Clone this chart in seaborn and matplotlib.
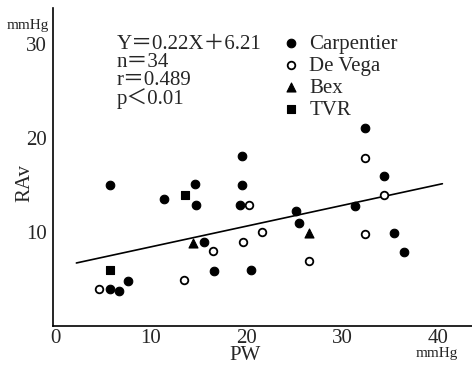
import matplotlib
matplotlib.use("Agg")
import matplotlib.pyplot as plt
import seaborn as sns
import numpy as np
import pandas as pd

# ---- data ----
carp_x = [5.7, 11.4, 14.6, 14.7, 19.5, 19.3, 15.6, 5.7, 6.7, 7.6, 16.6, 20.5, 25.2, 25.5, 31.4, 34.4, 35.4, 36.5, 32.4, 19.5]
carp_y = [15.0, 13.5, 15.1, 12.9, 15.0, 12.9, 8.9, 3.9, 3.7, 4.8, 5.85, 5.9, 12.2, 10.9, 12.8, 15.9, 9.9, 7.9, 21.0, 18.1]
devega_x = [16.5, 19.6, 4.6, 13.5, 20.3, 21.6, 26.5, 32.4, 34.4, 32.4]
devega_y = [8.0, 8.9, 3.9, 4.9, 12.9, 10.0, 6.9, 9.8, 13.9, 17.9]
bex_x = [14.4, 26.5]
bex_y = [8.8, 9.9]
tvr_x = [13.6, 5.7]
tvr_y = [13.9, 5.9]

slope = 0.22
intercept = 6.21
line_x = [2.2, 40.5]

x_ticks = [0, 10, 20, 30, 40]
y_ticks = [10, 20, 30]

groups = ["Carpentier", "De Vega", "Bex", "TVR"]
df = pd.DataFrame({
    "PW": carp_x + devega_x + bex_x + tvr_x,
    "RAv": carp_y + devega_y + bex_y + tvr_y,
    "group": (["Carpentier"] * len(carp_x) + ["De Vega"] * len(devega_x)
              + ["Bex"] * len(bex_x) + ["TVR"] * len(tvr_x)),
})

sns.set_theme(style="white")
serif = ["Liberation Serif", "Noto Sans CJK JP", "DejaVu Serif"]
plt.rcParams["font.family"] = serif

fig = plt.figure(figsize=(4.72, 3.65), dpi=100)
ax = fig.add_axes([0.112, 0.107, 0.888, 0.871])

styles = {
    "Carpentier": dict(marker="o", s=38, facecolor="black", edgecolor="black", linewidth=0.8),
    "De Vega": dict(marker="o", s=30, facecolor="white", edgecolor="black", linewidth=1.3),
    "Bex": dict(marker="^", s=42, facecolor="black", edgecolor="black", linewidth=0.8),
    "TVR": dict(marker="s", s=34, facecolor="black", edgecolor="black", linewidth=0.8),
}
for g in groups:
    sub = df[df["group"] == g]
    st = styles[g]
    sns.scatterplot(data=sub, x="PW", y="RAv", ax=ax, marker=st["marker"], s=st["s"],
                    color=st["facecolor"], edgecolor=st["edgecolor"], linewidth=st["linewidth"],
                    label=g, zorder=3)

line_y = [slope * v + intercept for v in line_x]
ax.plot(line_x, line_y, color="black", linewidth=1.2, zorder=2)

ax.set_xlim(-0.26, 43.6)
ax.set_ylim(0, 33.8)
ax.set_xticks(x_ticks)
ax.set_yticks(y_ticks)
ax.set_xticklabels([str(v) for v in x_ticks], fontsize=15)
ax.set_yticklabels([str(v) for v in y_ticks], fontsize=15)
ax.tick_params(axis="y", direction="out", length=3, width=1, color="black", pad=1)
ax.tick_params(axis="x", direction="in", length=3, width=1, color="black", pad=2)
for lab in ax.get_xticklabels():
    lab.set_family(serif)
for lab in ax.get_yticklabels():
    lab.set_family(serif)

for sp in ["top", "right"]:
    ax.spines[sp].set_visible(False)
for sp in ["left", "bottom"]:
    ax.spines[sp].set_color("black")
    ax.spines[sp].set_linewidth(1.2)

ax.set_xlabel("")
ax.set_ylabel("")
fig.text(25 / 472, 1 - 183 / 365, "RAv", rotation=90, ha="center", va="center", fontsize=15)
fig.text(245 / 472, 1 - 356 / 365, "PW", ha="center", va="center", fontsize=15)
fig.text(437 / 472, 1 - 353 / 365, "mmHg", ha="center", va="center", fontsize=11)
fig.text(28 / 472, 1 - 26 / 365, "mmHg", ha="center", va="center", fontsize=11)

fig.text(117 / 472, 1 - 35 / 365, "Y＝0.22X＋6.21\nn＝34\nr＝0.489\np＜0.01",
         ha="left", va="top", fontsize=15, linespacing=0.92)

leg = ax.legend(loc="upper left", bbox_to_anchor=(278 / 472, 1 - 34 / 365),
                bbox_transform=fig.transFigure, frameon=False, fontsize=15,
                handletextpad=0.3, labelspacing=0.12, borderpad=0, handlelength=1.2,
                borderaxespad=0)

fig.savefig("out.png", dpi=100)
